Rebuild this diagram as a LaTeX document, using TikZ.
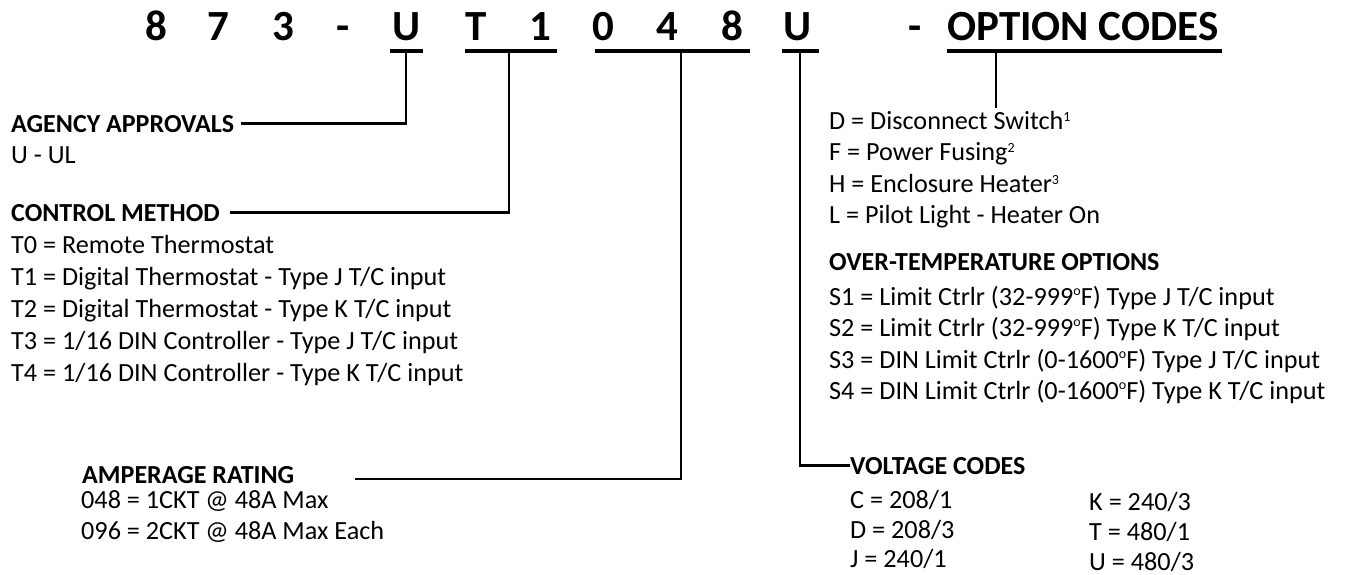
\documentclass[tikz,border=0pt]{standalone}
\usepackage{fontspec}
\setmainfont{Carlito}
\newcommand\noteno[1]{\raisebox{7.6pt}{\fontsize{14}{14}\selectfont #1}}
\newcommand\degsign{\raisebox{10pt}{\fontsize{14}{14}\selectfont o}}
\begin{document}
\begin{tikzpicture}[x=1pt,y=-1pt,
        code/.style={anchor=base,inner sep=0,font=\fontsize{43}{50}\selectfont\bfseries},
        head/.style={anchor=base west,inner sep=0,font=\fontsize{26}{31}\selectfont\bfseries},
        item/.style={anchor=base west,inner sep=0,font=\fontsize{26.2}{31}\selectfont},
        bar/.style={line width=4.5pt},
        lead/.style={line width=2.4pt}]
        \useasboundingbox (0,0) rectangle (1351,574);
        % the model number
        \node [code] (n8) at (156,40) {8};
        \node [code] (n7) at (218,40) {7};
        \node [code] (n3) at (283,40) {3};
        \node [code] (dashA) at (343,40) {-};
        \node [code] (agU) at (407,40) {U};
        \node [code] (ctT) at (476,40) {T};
        \node [code] (ct1) at (540,40) {1};
        \node [code] (am0) at (603,40) {0};
        \node [code] (am4) at (667,40) {4};
        \node [code] (am8) at (732,40) {8};
        \node [code] (voU) at (798,40) {U};
        \node [code] (dashB) at (915,40) {-};
        \node [code,anchor=base west] (optcodes) at (947,40) {OPTION CODES};
        % bars under each group
        \draw [bar] (390,51) -- (423,51);
        \draw [bar] (465,51) -- (557,51);
        \draw [bar] (595,51) -- (750,51);
        \draw [bar] (782,51) -- (819,51);
        \draw [bar] (947,51) -- (1222,51);
        \coordinate (agTop) at (406,51);
        \coordinate (ctTop) at (509,51);
        \coordinate (amTop) at (681,51);
        \coordinate (voTop) at (800,51);
        \coordinate (opTop) at (996,51);
        \coordinate (opEnd) at (996,108);
        \coordinate (amEnd) at (355,479);
        % agency approvals
        \node [head] (agency) at (11,132) {AGENCY APPROVALS};
        \node [item] (ul) at (11,163) {U - UL};
        % control method
        \node [head] (control) at (11,221) {CONTROL METHOD};
        \foreach \txt [count=\i] in {T0 = Remote Thermostat,
                T1 = Digital Thermostat - Type J T/C input,
                T2 = Digital Thermostat - Type K T/C input,
                T3 = 1/16 DIN Controller - Type J T/C input,
                T4 = 1/16 DIN Controller - Type K T/C input}
            \node [item] (ctl\i) at (11,{221+32*\i}) {\txt};
        % amperage rating
        \node [head] (amp) at (82,483) {AMPERAGE RATING};
        \node [item] (amp1) at (81,508) {048 = 1CKT @ 48A Max};
        \node [item] (amp2) at (81,539) {096 = 2CKT @ 48A Max Each};
        % option codes
        \foreach \txt [count=\i] in {D = Disconnect Switch\noteno{1},
                F = Power Fusing\noteno{2},
                H = Enclosure Heater\noteno{3},
                L = Pilot Light - Heater On}
            \node [item] (opt\i) at (829,{97.5+31.5*\i}) {\txt};
        \node [head] (overtemp) at (829,270) {OVER-TEMPERATURE OPTIONS};
        \foreach \txt [count=\i] in {S1 = Limit Ctrlr (32-999\degsign F) Type J T/C input,
                S2 = Limit Ctrlr (32-999\degsign F) Type K T/C input,
                S3 = DIN Limit Ctrlr (0-1600\degsign F) Type J T/C input,
                S4 = DIN Limit Ctrlr (0-1600\degsign F) Type K T/C input}
            \node [item] (ot\i) at (829,{273.5+31.5*\i}) {\txt};
        % voltage codes
        \node [head] (volt) at (850,474) {VOLTAGE CODES};
        \node [item] (vC) at (850,508) {C = 208/1};
        \node [item] (vD) at (850,538) {D = 208/3};
        \node [item] (vJ) at (850,567) {J = 240/1};
        \node [item] (vK) at (1089,510) {K = 240/3};
        \node [item] (vT) at (1089,540) {T = 480/1};
        \node [item] (vU) at (1089,570) {U = 480/3};
        % leads
        \draw [lead,shorten >=7pt] (agTop) |- (agency.east);
        \draw [lead,shorten >=10pt] (ctTop) |- (control.east);
        \draw [lead] (amTop) |- (amEnd);
        \draw [lead] (voTop) |- (volt.west);
        \draw [lead] (opTop) -- (opEnd);
    \end{tikzpicture}
\end{document}
